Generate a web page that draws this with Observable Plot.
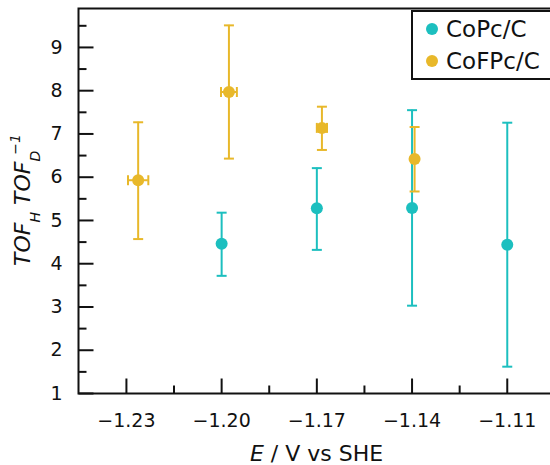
<!DOCTYPE html>
<html>
<head>
<meta charset="utf-8">
<script src="https://cdn.jsdelivr.net/npm/d3@7"></script>
<script src="https://cdn.jsdelivr.net/npm/@observablehq/plot@0.6"></script>
<style>
  html, body { margin: 0; padding: 0; background: #fff; overflow: hidden; }
  #wrap { position: relative; width: 550px; height: 465px; overflow: hidden; font-family: "DejaVu Sans", sans-serif; }
  #wrap > svg { max-width: none !important; display: block; }
  #legend { position: absolute; left: 0; top: 0; }
</style>
</head>
<body>
<div id="wrap"></div>
<script>
// ---- data ----
const seriesNames = ["CoPc/C", "CoFPc/C"];
const seriesColors = ["#1cbfbf", "#e8b82a"];

const copcE    = [-1.20, -1.17, -1.14, -1.11];
const copcTOF  = [4.46, 5.28, 5.29, 4.44];
const copcLow  = [3.72, 4.32, 3.03, 1.62];
const copcHigh = [5.18, 6.21, 7.55, 7.26];

const cofpcE    = [-1.2263, -1.1977, -1.1684, -1.1392];
const cofpcTOF  = [5.93, 7.97, 7.14, 6.42];
const cofpcLow  = [4.57, 6.43, 6.63, 5.67];
const cofpcHigh = [7.27, 9.51, 7.63, 7.16];
const cofpcEErr = [0.0032, 0.0025, 0.0016, 0];

const xTicks = [-1.23, -1.20, -1.17, -1.14, -1.11];
const xMinor = [-1.215, -1.185, -1.155, -1.125];
const yTicks = [1, 2, 3, 4, 5, 6, 7, 8, 9];
const yMinor = [1.5, 2.5, 3.5, 4.5, 5.5, 6.5, 7.5, 8.5, 9.5];

const xDomain = [-1.2451, -1.0948];
const yDomain = [1, 9.9];

// ---- table ----
const rows = [];
copcE.forEach((e, i) => rows.push({s: seriesNames[0], E: e, v: copcTOF[i], lo: copcLow[i], hi: copcHigh[i], ex: 0}));
cofpcE.forEach((e, i) => rows.push({s: seriesNames[1], E: e, v: cofpcTOF[i], lo: cofpcLow[i], hi: cofpcHigh[i], ex: cofpcEErr[i]}));
const xErrRows = rows.filter(d => d.ex > 0);

// ---- pixel symbols ----
const hCap = {draw(c) { c.moveTo(-5, 0); c.lineTo(5, 0); }};
const vCap = {draw(c) { c.moveTo(0, -5); c.lineTo(0, 5); }};
const xMaj = {draw(c) { c.moveTo(0, 0); c.lineTo(0, -15); }};
const xMin = {draw(c) { c.moveTo(0, 0); c.lineTo(0, -8); }};
const yMaj = {draw(c) { c.moveTo(0, 0); c.lineTo(15, 0); }};
const yMin = {draw(c) { c.moveTo(0, 0); c.lineTo(8, 0); }};

const color = {domain: seriesNames, range: seriesColors};

const chart = Plot.plot({
  width: 560,
  height: 465,
  marginLeft: 78,
  marginRight: 5,
  marginTop: 8,
  marginBottom: 72,
  style: {fontFamily: "DejaVu Sans, sans-serif", fontSize: "19px", background: "#fff", color: "#111", maxWidth: "none"},
  x: {domain: xDomain},
  y: {domain: yDomain},
  color,
  marks: [
    Plot.axisX({ticks: xTicks, tickSize: 0, tickPadding: 19.5, label: null,
      tickFormat: d => "\u2212" + Math.abs(d).toFixed(2)}),
    Plot.axisY({ticks: yTicks, tickSize: 0, tickPadding: 16, label: null, tickFormat: d => String(d)}),
    // tick marks (inward)
    Plot.dot(xTicks, {x: d => d, y: () => yDomain[0], symbol: xMaj, fill: "none", stroke: "#111", strokeWidth: 2}),
    Plot.dot(xMinor, {x: d => d, y: () => yDomain[0], symbol: xMin, fill: "none", stroke: "#111", strokeWidth: 2}),
    Plot.dot(yTicks, {y: d => d, x: () => xDomain[0], symbol: yMaj, fill: "none", stroke: "#111", strokeWidth: 2}),
    Plot.dot(yMinor, {y: d => d, x: () => xDomain[0], symbol: yMin, fill: "none", stroke: "#111", strokeWidth: 2}),
    // y error bars
    Plot.ruleX(rows, {x: "E", y1: "lo", y2: "hi", stroke: "s", strokeWidth: 2}),
    Plot.dot(rows, {x: "E", y: "lo", symbol: hCap, fill: "none", stroke: "s", strokeWidth: 2}),
    Plot.dot(rows, {x: "E", y: "hi", symbol: hCap, fill: "none", stroke: "s", strokeWidth: 2}),
    // x error bars
    Plot.ruleY(xErrRows, {y: "v", x1: d => d.E - d.ex, x2: d => d.E + d.ex, stroke: "s", strokeWidth: 2}),
    Plot.dot(xErrRows, {x: d => d.E - d.ex, y: "v", symbol: vCap, fill: "none", stroke: "s", strokeWidth: 2}),
    Plot.dot(xErrRows, {x: d => d.E + d.ex, y: "v", symbol: vCap, fill: "none", stroke: "s", strokeWidth: 2}),
    // points
    Plot.dot(rows, {x: "E", y: "v", r: 6, fill: "s", stroke: null}),
    Plot.frame({stroke: "#111", strokeWidth: 2})
  ]
});
chart.style.maxWidth = "none";
chart.style.width = "560px";
chart.style.height = "465px";

const svg = d3.select(chart);
// x axis title
const xt = svg.append("text")
  .attr("x", 316.5).attr("y", 461)
  .attr("text-anchor", "middle")
  .attr("font-size", 22).attr("fill", "#111");
xt.append("tspan").attr("font-style", "italic").text("E");
xt.append("tspan").text(" / V vs SHE");

// y axis title
const yt = svg.append("text")
  .attr("transform", "translate(30,200) rotate(-90)")
  .attr("text-anchor", "middle")
  .attr("font-size", 22).attr("font-style", "italic").attr("fill", "#111");
yt.append("tspan").text("TOF");
yt.append("tspan").attr("font-size", 14).attr("dy", 10).text("H");
yt.append("tspan").attr("dy", -10).text(" TOF");
yt.append("tspan").attr("font-size", 14).attr("dy", 10).text("D");
yt.append("tspan").attr("font-size", 14).attr("dy", -20).attr("dx", -4).text("\u22121");

document.getElementById("wrap").appendChild(chart);

// legend
const lg = d3.select("#wrap").append("svg").attr("id", "legend")
  .attr("width", 550).attr("height", 90);
lg.append("rect").attr("x", 412).attr("y", 11).attr("width", 160).attr("height", 68)
  .attr("fill", "#fff").attr("stroke", "#111").attr("stroke-width", 2);
seriesNames.forEach((name, i) => {
  const cy = 29 + i * 32;
  lg.append("circle").attr("cx", 432).attr("cy", cy).attr("r", 6).attr("fill", seriesColors[i]);
  lg.append("text").attr("x", 446).attr("y", cy + 8).attr("font-size", 23)
    .attr("font-family", "DejaVu Sans, sans-serif").attr("fill", "#111").text(name);
});
</script>
</body>
</html>
